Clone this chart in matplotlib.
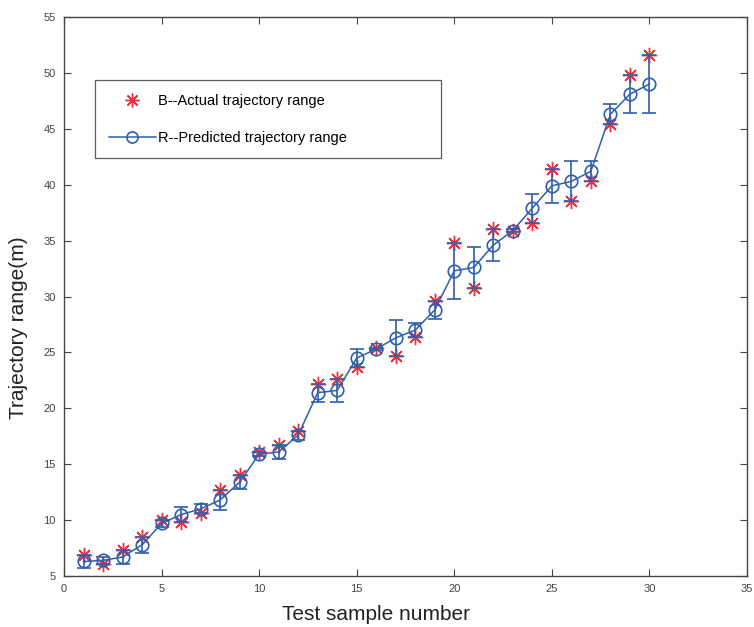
import matplotlib
matplotlib.use("Agg")
import matplotlib.pyplot as plt
from matplotlib.lines import Line2D

plt.rcParams['font.family'] = ['Liberation Sans', 'DejaVu Sans']

samples = list(range(1, 31))
predicted = [6.3, 6.4, 6.7, 7.8, 9.7, 10.5, 11.0, 11.8, 13.4, 15.9,
             16.1, 17.6, 21.4, 21.6, 24.5, 25.3, 26.3, 27.0, 28.8, 32.3,
             32.6, 34.6, 35.9, 37.9, 39.9, 40.3, 41.2, 46.3, 48.1, 49.0]
actual = [6.9, 6.1, 7.3, 8.5, 10.0, 9.8, 10.6, 12.7, 14.0, 16.1,
          16.7, 18.0, 22.2, 22.6, 23.7, 25.4, 24.7, 26.4, 29.6, 34.8,
          30.8, 36.0, 35.9, 36.6, 41.4, 38.5, 40.3, 45.4, 49.8, 51.6]
errors = [0.6, 0.3, 0.6, 0.7, 0.3, 0.7, 0.4, 0.9, 0.6, 0.2,
          0.6, 0.4, 0.8, 1.0, 0.8, 0.1, 1.6, 0.6, 0.8, 2.5,
          1.8, 1.4, 0.1, 1.3, 1.5, 1.8, 0.9, 0.9, 1.7, 2.6]

xticks = [0, 5, 10, 15, 20, 25, 30, 35]
yticks = [5, 10, 15, 20, 25, 30, 35, 40, 45, 50, 55]

blue = '#2d5fae'
red = '#f0303a'

fig = plt.figure(figsize=(7.54, 6.27), dpi=100)
ax = fig.add_axes([0.0849, 0.0813, 0.9058, 0.8916])

ax.plot(samples, actual, ls='none', marker=(8, 2, 0), ms=11,
        color=red, mew=1.0, zorder=2)
ax.errorbar(samples, predicted, yerr=errors, fmt='none', ecolor=blue,
            elinewidth=1.2, capsize=5, capthick=1.2, zorder=3)
ax.plot(samples, predicted, color=blue, lw=1.1, marker='o', ms=9,
        mfc='none', mec=blue, mew=1.2, zorder=4)

ax.set_xlim(0, 35)
ax.set_ylim(5, 55)
ax.set_xticks(xticks)
ax.set_yticks(yticks)
ax.tick_params(direction='in', top=True, right=True, length=5,
               labelsize=8, colors='#444444', width=0.8, pad=6)
for s in ax.spines.values():
    s.set_color('#444444')
    s.set_linewidth(1.0)

ax.set_xlabel('Test sample number', fontsize=15, color='#222222')
ax.set_ylabel('Trajectory range(m)', fontsize=15, color='#222222')
ax.xaxis.set_label_coords(0.457, -0.052)
ax.yaxis.set_label_coords(-0.052, 0.444)

handles = [
    Line2D([], [], ls='none', marker=(8, 2, 0), ms=10, color=red, mew=1.0),
    Line2D([], [], color=blue, lw=1.1, marker='o', ms=8, mfc='none',
           mec=blue, mew=1.2),
]
leg = ax.legend(handles, ['B--Actual trajectory range',
                          'R--Predicted trajectory range'],
                loc='upper left', bbox_to_anchor=(0.0454, 0.748, 0.5066, 0.139),
                mode='expand', fontsize=10.5, frameon=True, fancybox=False,
                edgecolor='#333333', borderpad=0.95, labelspacing=1.55,
                handlelength=3.2, handletextpad=0.15, borderaxespad=0)
leg.get_frame().set_linewidth(0.9)

fig.savefig('out.png', dpi=100)
